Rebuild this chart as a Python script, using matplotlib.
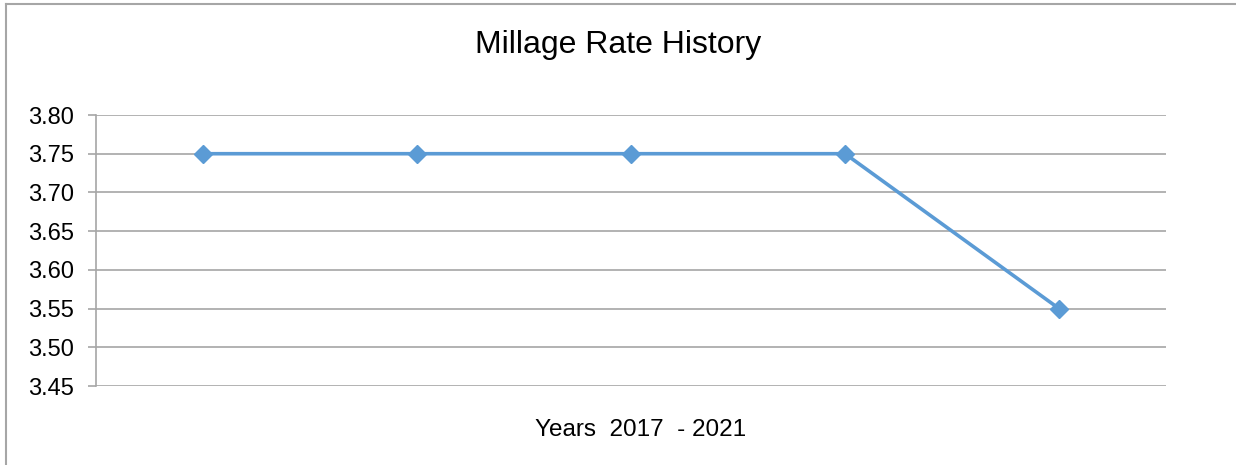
import matplotlib.pyplot as plt
from matplotlib.lines import Line2D

years = [2017, 2018, 2019, 2020, 2021]
rates = [3.75, 3.75, 3.75, 3.75, 3.55]
y_ticks = [3.45, 3.50, 3.55, 3.60, 3.65, 3.70, 3.75, 3.80]

plt.rcParams['font.family'] = ['Liberation Sans', 'DejaVu Sans']

fig = plt.figure(figsize=(12.36, 4.65), dpi=100)
ax = fig.add_axes([96 / 1236, 1 - 386 / 465, (1166 - 96) / 1236, (386 - 115) / 465])

x = list(range(len(years)))
ax.plot(x, rates, color='#5B9BD5', linewidth=2.6, marker='D', markersize=9.5, zorder=3)

ax.set_xlim(-0.5, len(years) - 0.5)
ax.set_ylim(3.45, 3.80)
ax.set_yticks(y_ticks)
ax.set_yticklabels(['%.2f' % v for v in y_ticks], fontsize=17)
ax.set_xticks([])
ax.yaxis.grid(True, color='#A6A6A6', linewidth=1.2)
ax.set_axisbelow(True)
ax.tick_params(axis='y', length=6, width=1.2, color='#A6A6A6', pad=10)

for side in ['top', 'right', 'bottom']:
    ax.spines[side].set_visible(False)
ax.spines['left'].set_color('#A6A6A6')
ax.spines['left'].set_linewidth(1.2)

fig.text(0.5, 1 - 45 / 465, 'Millage Rate History', ha='center', va='center', fontsize=23)
fig.text(641 / 1236, 1 - 430 / 465, 'Years  2017  - 2021', ha='center', va='center', fontsize=17.5)

# outer chart frame (top and left edges visible)
fig.add_artist(Line2D([6 / 1236, 1], [1 - 4 / 465, 1 - 4 / 465], color='#A6A6A6', linewidth=1.5,
                      transform=fig.transFigure))
fig.add_artist(Line2D([6 / 1236, 6 / 1236], [0, 1 - 4 / 465], color='#A6A6A6', linewidth=1.5,
                      transform=fig.transFigure))

fig.savefig('out.png', dpi=100)
